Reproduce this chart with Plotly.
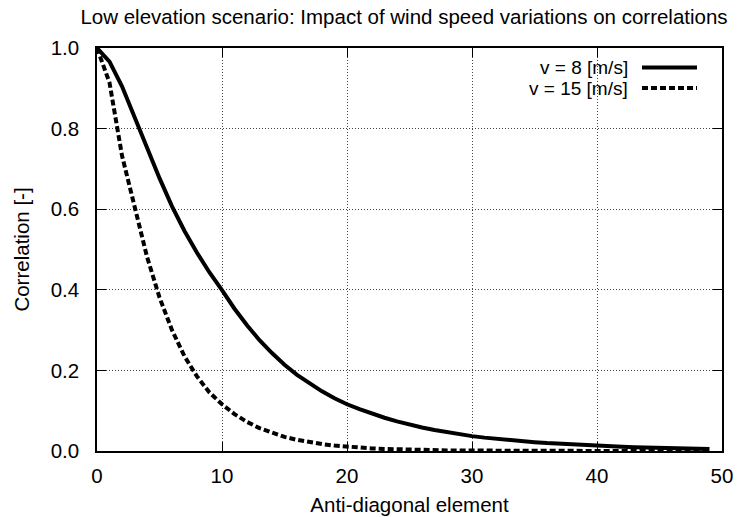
import plotly.graph_objects as go

# ---- data ----
x_elem = list(range(0, 50))

corr_v8 = [1.0, 0.966, 0.905, 0.827, 0.752, 0.677, 0.607, 0.546, 0.492, 0.443,
           0.399, 0.353, 0.312, 0.275, 0.243, 0.214, 0.189, 0.167, 0.148, 0.131,
           0.116, 0.104, 0.0926, 0.0825, 0.0735, 0.0655, 0.0584, 0.0521, 0.0464, 0.0414,
           0.0369, 0.0332, 0.0299, 0.0269, 0.0242, 0.0218, 0.0196, 0.0177, 0.0159, 0.0143,
           0.0129, 0.0117, 0.0106, 0.0096, 0.0087, 0.0078, 0.0071, 0.0064, 0.0058, 0.0052]

corr_v15 = [1.0, 0.914, 0.733, 0.607, 0.482, 0.381, 0.300, 0.235, 0.185, 0.145,
            0.116, 0.0916, 0.0721, 0.0567, 0.0446, 0.0351, 0.0276, 0.0217, 0.0171, 0.0134,
            0.0106, 0.0083, 0.0065, 0.0051, 0.0040, 0.0032, 0.0025, 0.0020, 0.0015, 0.0012,
            0.0009, 0.0007, 0.0006, 0.0005, 0.0004, 0.0003, 0.0002, 0.0002, 0.0001, 0.0001,
            0.0001, 0.0001, 0.0001, 0.0, 0.0, 0.0, 0.0, 0.0, 0.0, 0.0]

series_names = ["v = 8 [m/s]", "v = 15 [m/s]"]
x_ticks = [0, 10, 20, 30, 40, 50]
y_ticks = [0.0, 0.2, 0.4, 0.6, 0.8, 1.0]

title_text = "Low elevation scenario: Impact of wind speed variations on correlations"
x_title = "Anti-diagonal element"
y_title = "Correlation [-]"

FONT = "Liberation Sans, Arial, Helvetica, sans-serif"
FS = 20.5
W, H = 742, 517
ML, MR, MT, MB = 97, 20, 48, 66

fig = go.Figure()
fig.add_trace(go.Scatter(x=x_elem, y=corr_v8, mode="lines", name=series_names[0],
                         line=dict(color="black", width=4), cliponaxis=False,
                         showlegend=False))
fig.add_trace(go.Scatter(x=x_elem, y=corr_v15, mode="lines", name=series_names[1],
                         line=dict(color="black", width=4, dash="6px,3px"), cliponaxis=False,
                         showlegend=False))

axis_common = dict(
    showline=True, linecolor="black", linewidth=1.5, mirror="ticks",
    ticks="inside", ticklen=9, tickwidth=1, tickcolor="black",
    showgrid=True, gridcolor="#444444", griddash="1px,2px", gridwidth=1,
    zeroline=False, tickfont=dict(family=FONT, size=FS, color="black"),
)

fig.update_xaxes(range=[0, 50], tickvals=x_ticks, ticktext=[str(v) for v in x_ticks],
                 ticklabelstandoff=6,
                 title=dict(text=x_title, font=dict(family=FONT, size=FS, color="black"), standoff=11),
                 **axis_common)
fig.update_yaxes(range=[0, 1], tickvals=y_ticks, ticktext=["%.1f" % v for v in y_ticks],
                 ticklabelstandoff=12,
                 title=dict(text=y_title, font=dict(family=FONT, size=FS, color="black"), standoff=15),
                 **axis_common)

# legend box (white background over grid), gnuplot-style: text right, sample left
pw = W - ML - MR
ph = H - MT - MB
def px_x(p):
    return (p - ML) / pw
def px_y(p):
    return 1 - (p - MT) / ph

shapes = [dict(type="rect", xref="paper", yref="paper", layer="between",
               x0=px_x(515), x1=px_x(706), y0=px_y(98), y1=px_y(49),
               fillcolor="white", line=dict(width=0))]
legend_rows = [67.5, 88]
dashes = ["solid", "6px,3px"]
annotations = []
for name, row, dsh in zip(series_names, legend_rows, dashes):
    annotations.append(dict(text=name, xref="paper", yref="paper", x=px_x(630), y=px_y(row),
                            xanchor="right", yanchor="middle", showarrow=False,
                            font=dict(family=FONT, size=19, color="black")))
    shapes.append(dict(type="line", xref="paper", yref="paper",
                       x0=px_x(642), x1=px_x(697), y0=px_y(row), y1=px_y(row),
                       line=dict(color="black", width=4, dash=dsh)))

fig.update_layout(
    width=W, height=H,
    margin=dict(l=ML, r=MR, t=MT, b=MB, autoexpand=False),
    paper_bgcolor="white", plot_bgcolor="white",
    title=dict(text=title_text, x=404 / W, xanchor="center", xref="container",
               y=1 - 17 / H, yanchor="middle", yref="container",
               font=dict(family=FONT, size=FS, color="black")),
    shapes=shapes, annotations=annotations, showlegend=False,
)

fig.write_html("out.html")
